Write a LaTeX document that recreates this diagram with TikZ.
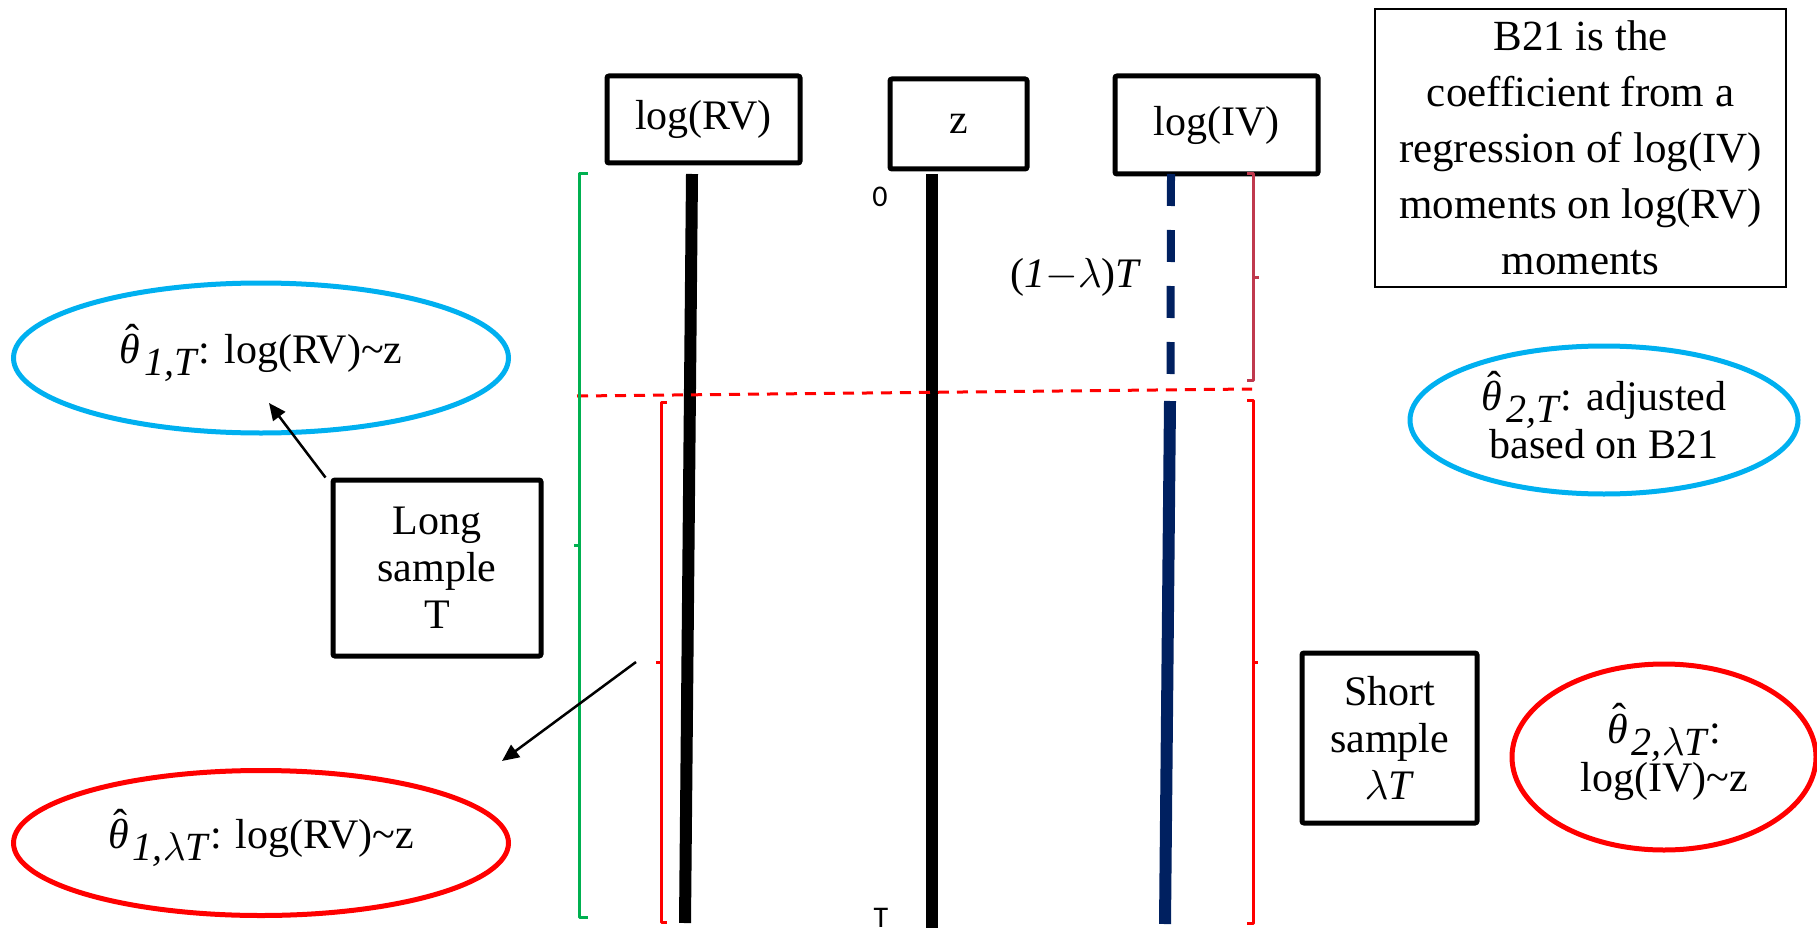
\RequirePackage{fix-cm}
\documentclass[tikz,border=0pt]{standalone}
\usepackage{fontspec}
\setmainfont{Liberation Serif}
\newfontfamily\sansnum{Carlito}
\usetikzlibrary{arrows.meta,shapes.geometric,calc}
\definecolor{oblue}{HTML}{00B0F0}
\definecolor{ored}{HTML}{FF0000}
\definecolor{ogreen}{HTML}{00B050}
\definecolor{onavy}{HTML}{002060}
\definecolor{ocrim}{HTML}{C0394E}
\newcommand\bigfs{\fontsize{42}{47}\selectfont}
\newcommand\bfsB{\fontsize{43}{56}\selectfont}
\newcommand\subfs{\fontsize{40}{40}\selectfont}
\newcommand\thetahat{\ooalign{\textit{θ}\cr\hidewidth\kern0.12em\raisebox{0.24em}{\char"02C6}\hidewidth\cr}}
\newcommand\subsc[1]{\kern4pt\raisebox{-12pt}{\subfs #1}}
\begin{document}
\begin{tikzpicture}[x=1pt,y=-1pt,
  box/.style={draw, line width=5pt, rounded corners=2pt, inner sep=0pt, align=center, font=\bigfs},
  thinbox/.style={draw, line width=2pt, inner sep=0pt, align=center, font=\bfsB},
  ell/.style={ellipse, line width=5pt, inner sep=0pt, align=center, font=\bigfs},
  brace/.style={line width=3pt, line join=round},
  arr/.style={line width=2.5pt, -{Triangle[length=17pt,width=15pt]}},
  tl/.style={line width=12pt},
  lbl/.style={inner sep=0pt}]
\fill[white] (0,0) rectangle (1817,928);
\useasboundingbox (0,0) rectangle (1817,928);

% header boxes
\node[box, minimum width=193pt, minimum height=87pt] (rv) at (703.5,119.5) {log(RV)};
\node[box, minimum width=137pt, minimum height=90pt] (z) at (958.5,124) {z};
\node[box, minimum width=203pt, minimum height=98pt] (iv) at (1216.5,125) {log(IV)};
\node[thinbox, minimum width=411pt, minimum height=278pt] (b21) at (1580.5,148)
  {B21 is the\\coefficient from a\\regression of log(IV)\\moments on log(RV)\\moments};

% timelines
\coordinate (rvTop) at (692,174); \coordinate (rvBot) at (685,923);
\coordinate (zTop) at (932,174); \coordinate (zBot) at (932,928);
\coordinate (ivTop) at (1171,174); \coordinate (ivMid) at (1170.5,375);
\coordinate (ivSol) at (1170,401); \coordinate (ivBot) at (1165,924);
\draw[tl] (rvTop) -- (rvBot);
\draw[tl] (zTop) -- (zBot);
\draw[onavy, line width=8pt, dash pattern=on 32pt off 24pt] (ivTop) -- (ivMid);
\draw[tl, onavy] (ivSol) -- (ivBot);

% split line
\coordinate (splitL) at (577,396); \coordinate (splitR) at (1252,389);
\draw[ored, line width=3pt, dash pattern=on 11pt off 8pt] (splitL) -- (splitR);

% braces
\draw[brace, ogreen] (588,174) -- (579,174) -- (579,917) -- (588,917);
\draw[brace, ogreen] (579,545) -- (574,545);
\draw[brace, ored] (667,402) -- (661,402) -- (661,922) -- (667,922);
\draw[brace, ored] (661,662) -- (656,662);
\draw[brace, ocrim] (1247,174) -- (1253,174) -- (1253,380) -- (1247,380);
\draw[brace, ocrim] (1253,277) -- (1259,277);
\draw[brace, ored] (1247,400) -- (1253,400) -- (1253,923) -- (1247,923);
\draw[brace, ored] (1253,662) -- (1258,662);

% labels
\node[lbl, font=\sansnum\fontsize{30}{30}\selectfont] (l0) at (880,197) {0};
\node[lbl, font=\sansnum\fontsize{30}{30}\selectfont] (lT) at (881,918) {T};
\node[lbl, font=\bigfs] (lam) at (1076,277) {(\textit{1}$-\lambda$)\textit{T}};

% sample boxes
\node[box, minimum width=208pt, minimum height=176pt] (long) at (437,568) {Long\\sample\\T};
\node[box, minimum width=175pt, minimum height=170pt] (short) at (1389.5,738) {Short\\sample\\$\lambda$\textit{T}};

% ellipses
\node[ell, draw=oblue, minimum width=495pt, minimum height=150pt] (e1) at (261,358)
  {\thetahat\subsc{\textit{1,T}}: log(RV)\textasciitilde z};
\node[ell, draw=ored, minimum width=495pt, minimum height=145pt] (e3) at (261,843)
  {\thetahat\subsc{\textit{1,}$\lambda$\textit{T}}: log(RV)\textasciitilde z};
\node[ell, draw=oblue, minimum width=388pt, minimum height=148pt] (e2) at (1604,420)
  {\thetahat\subsc{\textit{2,T}}: adjusted\\based on B21};
\node[ell, draw=ored, minimum width=304pt, minimum height=186pt] (e4) at (1664,757)
  {\thetahat\subsc{\textit{2,}$\lambda$\textit{T}}:\\log(IV)\textasciitilde z};

% arrows
\coordinate (a1t) at (269,403);
\draw[arr] ($(long.north west)+(-5,0)$) -- (a1t);
\coordinate (a2s) at (636,662);
\coordinate (a2t) at (502,761);
\draw[arr] (a2s) -- (a2t);
\end{tikzpicture}
\end{document}
